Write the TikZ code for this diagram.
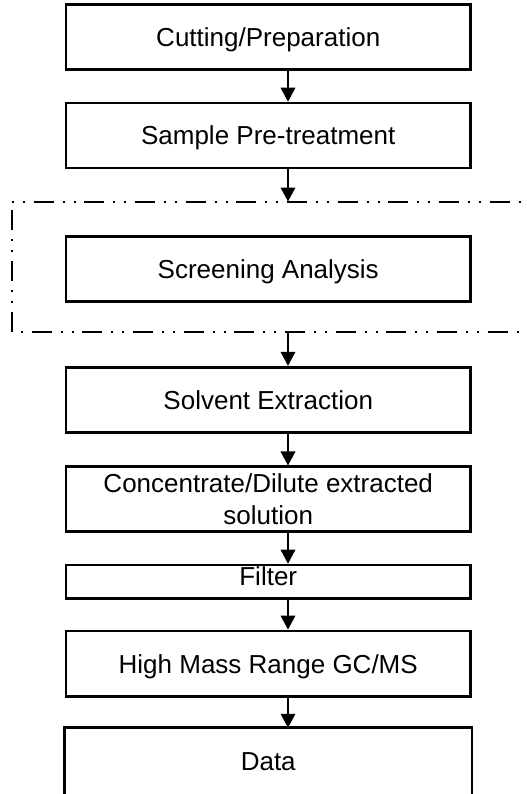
\documentclass[tikz,border=0pt]{standalone}
\usepackage{fontspec}
\setmainfont{Liberation Sans}
\usetikzlibrary{arrows.meta}
\begin{document}
\begin{tikzpicture}[x=0.75pt,y=-0.75pt,
  box/.style={draw, line width=2pt, minimum width=303.4pt, minimum height=48.75pt,
    inner sep=0pt, text height=14pt, text depth=0pt,
    font=\fontsize{19.5pt}{23.5pt}\selectfont},
  arr/.style={line width=1pt, -{Triangle[length=10.5pt,width=11pt]}},
  dd/.style={line width=1.5pt, dash pattern=on 15pt off 6.75pt on 1.5pt off 6.75pt on 1.5pt off 6.5pt}]
\useasboundingbox (0,0) rectangle (527,794);
\node[box] (b1) at (268.25,37.2) {Cutting/Preparation};
\node[box] (b2) at (268.25,135.5) {Sample Pre-treatment};
\node[box] (scr) at (268.25,269.2) {Screening Analysis};
\node[box] (solv) at (268.25,399.7) {Solvent Extraction};
\node[box, align=center, text height=37.5pt, text depth=0pt] (conc) at (268.25,499.3) {Concentrate/Dilute extracted\\solution};
\node[box, minimum height=25pt, text depth=7.8pt] (filt) at (268.25,581.7) {Filter};
\node[box, minimum height=49.3pt] (hm) at (268.25,663.8) {High Mass Range GC/MS};
\node[box, draw=none] (data) at (268.25,761.6) {Data};
\draw[line width=2pt] (data.south west) -- (data.north west) -- (data.north east) -- (data.south east);
% dash-dot group frame
\coordinate (gtl) at (12,201.5);
\coordinate (gbl) at (12,332.3);
\coordinate (gtr) at (530,201.5);
\coordinate (gbr) at (530,332.3);
\draw[dd, dash phase=21.75pt] (gtl) -- (gtr);
\draw[dd, dash phase=31.5pt] (gtl) -- (gbl);
\draw[dd, dash phase=23.25pt] (gbl) -- (gbr);
% arrows
\coordinate (ax) at (288,0);
\draw[arr] (b1.south -| ax) -- (b2.north -| ax);
\draw[arr] (b2.south -| ax) -- (gtl -| ax);
\draw[arr] (gbl -| ax) -- (solv.north -| ax);
\draw[arr] (solv.south -| ax) -- (conc.north -| ax);
\draw[arr] (conc.south -| ax) -- (filt.north -| ax);
\draw[arr] (filt.south -| ax) -- (hm.north -| ax);
\draw[arr] (hm.south -| ax) -- (data.north -| ax);
\end{tikzpicture}
\end{document}
